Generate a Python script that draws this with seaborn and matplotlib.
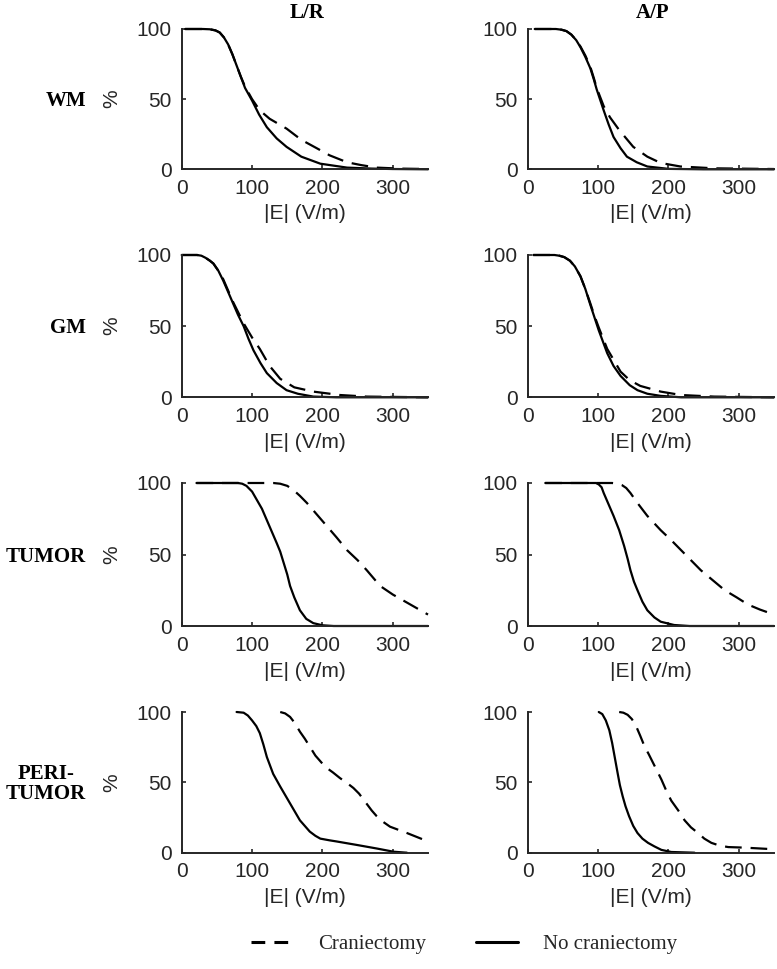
import numpy as np
import pandas as pd
import matplotlib
matplotlib.use('Agg')
import matplotlib.pyplot as plt
from matplotlib.lines import Line2D
import seaborn as sns

# Curvas de |E| (V/m) x % do volume
# WM
wm_lr_no_x = [5, 30, 40, 48, 54, 60, 66, 72, 78, 84, 90, 100, 110, 121, 135, 149, 170, 197, 235, 270, 300, 350]
wm_lr_no_y = [100, 100, 99.8, 99, 97.5, 94, 89, 82, 74, 66, 58, 49, 39, 30, 22, 16, 9, 4, 1.2, 0.5, 0.2, 0]
wm_lr_cr_x = [5, 30, 40, 48, 54, 60, 66, 72, 78, 84, 90, 100, 111, 125, 149, 170, 192, 210, 235, 255, 277, 310, 350]
wm_lr_cr_y = [100, 100, 99.8, 99, 97.5, 94, 89, 82, 74, 66, 59, 50, 42, 36, 29, 21, 15, 10, 5, 3, 1.2, 0.5, 0.2]
wm_ap_no_x = [10, 40, 48, 55, 62, 69, 75, 82, 89, 94, 98, 108, 115, 122, 132, 141, 155, 170, 200, 250, 350]
wm_ap_no_y = [100, 100, 99.5, 98.5, 96, 92, 87, 80, 72, 64, 57, 42, 32, 23, 15, 9, 5, 2, 0.3, 0, 0]
wm_ap_cr_x = [10, 40, 48, 55, 62, 69, 75, 82, 89, 94, 98, 108, 117, 130, 150, 170, 189, 217, 265, 350]
wm_ap_cr_y = [100, 100, 99.5, 98.5, 96, 92, 87.5, 81, 73, 65, 58, 45, 37, 28, 16, 9, 4.5, 2, 0.7, 0.2]

# GM
gm_lr_no_x = [0, 22, 28, 34, 40, 45, 52, 59, 66, 73, 80, 88, 95, 102, 112, 121, 135, 149, 165, 187, 220, 350]
gm_lr_no_y = [100, 100, 99.5, 98, 96, 94, 89, 82, 74, 66, 58, 50, 41, 33, 24, 17, 10, 5, 2.5, 0.5, 0, 0]
gm_lr_cr_x = [0, 22, 28, 34, 40, 45, 52, 59, 66, 73, 80, 88, 100, 111, 125, 140, 160, 187, 225, 263, 350]
gm_lr_cr_y = [100, 100, 99.5, 98, 96, 94, 89, 83, 75, 67, 60, 52, 42, 34, 22, 13, 7, 4, 1.6, 0.5, 0]
gm_ap_no_x = [8, 38, 45, 52, 60, 67, 75, 82, 89, 95, 101, 113, 122, 132, 145, 156, 170, 189, 218, 350]
gm_ap_no_y = [100, 100, 99.5, 98.5, 96, 92, 85, 76, 65, 56, 47, 31, 22, 15, 8.5, 5, 2.5, 1, 0, 0]
gm_ap_cr_x = [8, 38, 45, 52, 60, 67, 75, 82, 89, 95, 101, 113, 132, 145, 160, 189, 218, 265, 350]
gm_ap_cr_y = [100, 100, 99.5, 98.5, 96, 92, 85, 76, 66, 57, 49, 34, 18, 12, 8, 4, 1.6, 0.5, 0]

# TUMOR
tu_lr_no_x = [21, 80, 86, 92, 100, 107, 114, 121, 128, 135, 140, 145, 150, 154, 160, 168, 177, 187, 200, 216, 350]
tu_lr_no_y = [100, 100, 99.5, 98, 94, 88, 82, 74, 66, 58, 52, 44, 36, 28, 20, 11, 5, 2, 0.5, 0, 0]
tu_lr_cr_x = [21, 130, 140, 150, 159, 168, 178, 192, 206, 220, 235, 250, 263, 282, 300, 325, 350]
tu_lr_cr_y = [100, 100, 99.5, 98, 95, 91, 86, 78, 70, 62, 53, 46, 39, 28, 22, 15, 8]
tu_ap_no_x = [25, 97, 101, 105, 108, 115, 122, 130, 137, 142, 146, 151, 156, 163, 170, 180, 189, 208, 230, 350]
tu_ap_no_y = [100, 100, 99, 97, 93, 85, 77, 67, 56, 47, 39, 31, 25, 17, 11, 6, 3, 0.7, 0, 0]
tu_ap_cr_x = [25, 120, 128, 134, 140, 146, 156, 170, 189, 204, 218, 232, 246, 263, 280, 297, 313, 330, 350]
tu_ap_cr_y = [100, 100, 99.5, 98.5, 96.5, 93, 86, 77, 67, 60, 53, 46, 39, 32, 25, 20, 15, 11.5, 8]

# PERI-TUMOR
pt_lr_no_x = [78, 88, 94, 100, 106, 111, 116, 121, 130, 140, 154, 168, 182, 190, 197, 210, 220, 249, 277, 301, 320]
pt_lr_no_y = [100, 99.5, 97.5, 94, 90, 85, 77, 68, 56, 47, 35, 23, 15, 12, 10, 8.8, 8, 5.5, 3, 0.7, 0]
pt_lr_cr_x = [140, 147, 154, 161, 168, 175, 190, 204, 215, 225, 235, 244, 252, 261, 270, 277, 286, 296, 320, 335, 350]
pt_lr_cr_y = [100, 99, 96.5, 92, 86, 81, 69, 61, 57, 53, 49.5, 46, 42, 36, 30, 26, 22, 18.5, 14, 11, 8]
pt_ap_no_x = [101, 106, 111, 116, 120, 124, 128, 131, 135, 139, 144, 150, 156, 163, 171, 180, 190, 204, 237]
pt_ap_no_y = [100, 98.5, 94, 87, 78, 67, 56, 48, 40, 33, 26, 19, 14, 10, 7, 4.5, 2, 0.5, 0]
pt_ap_cr_x = [130, 136, 142, 148, 154, 160, 166, 172, 178, 184, 190, 197, 204, 214, 223, 232, 242, 251, 261, 273, 285, 308, 330, 351]
pt_ap_cr_y = [100, 99.5, 98, 95, 90, 83, 75.6, 70, 64, 58, 52, 44, 37, 30, 23, 18, 14, 10, 7, 5, 4, 3.6, 3, 2.4]

linhas = ['WM', 'GM', 'TUMOR', 'PERI-\nTUMOR']
colunas = ['L/R', 'A/P']
condicoes = ['Craniectomy', 'No craniectomy']

curvas = {
    (0, 0): (wm_lr_cr_x, wm_lr_cr_y, wm_lr_no_x, wm_lr_no_y),
    (0, 1): (wm_ap_cr_x, wm_ap_cr_y, wm_ap_no_x, wm_ap_no_y),
    (1, 0): (gm_lr_cr_x, gm_lr_cr_y, gm_lr_no_x, gm_lr_no_y),
    (1, 1): (gm_ap_cr_x, gm_ap_cr_y, gm_ap_no_x, gm_ap_no_y),
    (2, 0): (tu_lr_cr_x, tu_lr_cr_y, tu_lr_no_x, tu_lr_no_y),
    (2, 1): (tu_ap_cr_x, tu_ap_cr_y, tu_ap_no_x, tu_ap_no_y),
    (3, 0): (pt_lr_cr_x, pt_lr_cr_y, pt_lr_no_x, pt_lr_no_y),
    (3, 1): (pt_ap_cr_x, pt_ap_cr_y, pt_ap_no_x, pt_ap_no_y),
}

sns.set_style('ticks')
plt.rcParams['font.family'] = ['Liberation Sans', 'DejaVu Sans']
cinza = '#262626'
serif = ['Liberation Serif', 'DejaVu Serif']

fig = plt.figure(figsize=(7.77, 9.69), dpi=100)
W, H = 777.0, 969.0

# posições em pixels (esquerda, topo, base)
x_esq = [181.7, 527.7]
largura = 246.3
topos = [29, 255, 483, 712]
bases = [169.3, 397.3, 626, 852.7]

tracos = {'Craniectomy': (7.5, 4), 'No craniectomy': ''}

for i in range(4):
    for j in range(2):
        ax = fig.add_axes([x_esq[j] / W, 1 - bases[i] / H, largura / W, (bases[i] - topos[i]) / H])
        cx, cy, nx, ny = curvas[(i, j)]
        df = pd.DataFrame({
            'E': cx + nx,
            'pct': cy + ny,
            'cond': ['Craniectomy'] * len(cx) + ['No craniectomy'] * len(nx),
        })
        sns.lineplot(data=df, x='E', y='pct', style='cond', style_order=condicoes,
                     dashes=tracos, color='black', lw=1.6, estimator=None,
                     sort=False, legend=False, ax=ax)
        for ln in ax.lines:
            ln.set_clip_on(False)
        ax.set_xlim(0, 350)
        ax.set_ylim(0, 100)
        ax.set_xticks([0, 100, 200, 300])
        ax.set_yticks([0, 50, 100])
        ax.tick_params(direction='in', length=3, width=1.2, colors=cinza,
                       labelsize=15, pad=7, labelcolor=cinza)
        sns.despine(ax=ax)
        for s in ['left', 'bottom']:
            ax.spines[s].set_linewidth(1.4)
            ax.spines[s].set_color(cinza)
        ax.set_xlabel('|E| (V/m)', fontsize=15, color=cinza)
        ax.xaxis.set_label_coords(0.5, -0.25)
        if j == 0:
            ax.set_ylabel('%', fontsize=15, color=cinza)
            ax.yaxis.set_label_coords(-0.245, 0.5)
        else:
            ax.set_ylabel('')
        if i == 0:
            fig.text((x_esq[j] + largura / 2 + 2) / W, 1 - 13 / H, colunas[j],
                     ha='center', va='center', fontsize=15, fontweight='bold',
                     family=serif, color='black')
    yc = (topos[i] + bases[i]) / 2 + 2
    fig.text(86 / W, 1 - yc / H, linhas[i], ha='right', va='center',
             multialignment='center', fontsize=15, fontweight='bold',
             family=serif, color='black', linespacing=1.0)

# Legenda
handles = [Line2D([], [], color='black', lw=2.2, dashes=(4.5, 3)),
           Line2D([], [], color='black', lw=2.2)]
fig.legend(handles, condicoes, loc='center', bbox_to_anchor=(464 / W, 1 - 944 / H),
           ncol=2, frameon=False, handlelength=2.0, handletextpad=1.2,
           columnspacing=2.4, prop={'family': serif, 'size': 15})

plt.savefig('out.png', dpi=100)
